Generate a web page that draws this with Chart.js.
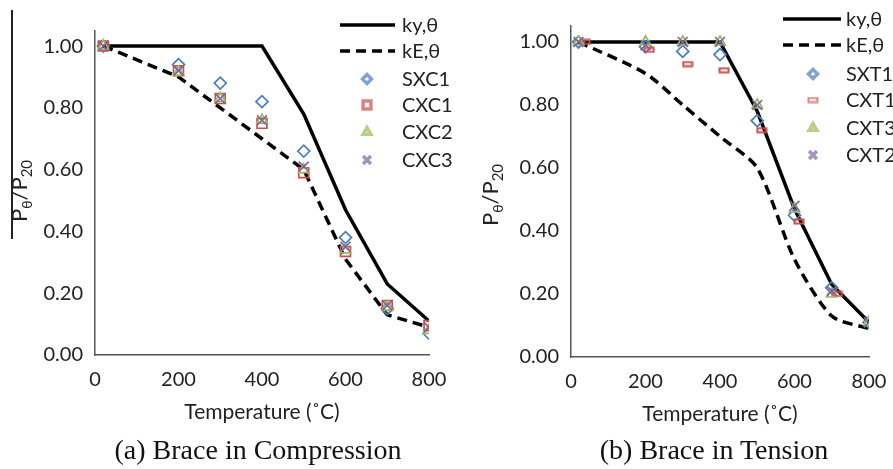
<!DOCTYPE html>
<html>
<head>
<meta charset="utf-8">
<script src="https://cdn.jsdelivr.net/npm/chart.js@4/dist/chart.umd.min.js"></script>
<style>
  body { margin: 0; background: #fff; }
  #wrap { position: relative; width: 893px; height: 469px; overflow: hidden; }
  #wrap canvas { position: absolute; left: 0; top: 0; }
  .cap { position: absolute; top: 434px; font-family: "Liberation Serif", serif; font-size: 28px; color: #111; white-space: nowrap; transform: translateX(-50%); }
  #bar { position: absolute; left: 11px; top: 10px; width: 1.5px; height: 229px; background: #222; }
</style>
</head>
<body>
<div id="wrap">
  <canvas id="left" width="893" height="469"></canvas>
  <canvas id="right" width="893" height="469"></canvas>
  <div id="bar"></div>
  <div class="cap" style="left:258px">(a) Brace in Compression</div>
  <div class="cap" style="left:714px">(b) Brace in Tension</div>
</div>
<script>
// Eurocode reduction factors
const kyTemps = [20, 400, 500, 600, 700, 800];
const kyVals = [1.0, 1.0, 0.78, 0.47, 0.23, 0.11];
const kETemps = [20, 200, 300, 400, 500, 600, 700, 800];
const kEVals = [1.0, 0.9, 0.8, 0.7, 0.6, 0.31, 0.13, 0.09];

// (a) compression tests
const compTemps = [20, 200, 300, 400, 500, 600, 700, 800];
const sxc1 = [1.0, 0.94, 0.88, 0.82, 0.66, 0.38, 0.15, 0.07];
const cxc1 = [1.0, 0.92, 0.83, 0.75, 0.59, 0.335, 0.16, 0.095];
const cxc2 = [1.0, 0.915, 0.83, 0.76, 0.60, 0.34, 0.155, 0.08];
const cxc3 = [1.0, 0.92, 0.83, 0.76, 0.61, 0.35, 0.16, 0.09];

// (b) tension tests
const tensTemps = [20, 200, 300, 400, 500, 600, 700, 800];
const cxt1Temps = [38, 210, 313, 411, 512, 612, 715, 818];
const sxt1 = [1.0, 0.985, 0.97, 0.96, 0.75, 0.45, 0.22, 0.11];
const cxt1 = [1.0, 0.975, 0.93, 0.91, 0.72, 0.43, 0.20, 0.10];
const cxt3 = [1.0, 1.0, 1.0, 1.0, 0.80, 0.47, 0.20, 0.11];
const cxt2 = [1.0, 0.99, 1.0, 1.0, 0.80, 0.48, 0.21, 0.11];

const xTicks = [0, 200, 400, 600, 800];
const yTicks = [0, 0.2, 0.4, 0.6, 0.8, 1.0];

const pts = (xs, ys) => xs.map((x, i) => ({ x: x, y: ys[i] }));

const BLUE = '#4a7ebb', RED = '#c9504d', GREEN = '#9bbb59', PURPLE = '#8064a2';
const FONT = 'Lato, "Open Sans", sans-serif';

// small hollow dash marker for CXT1
function dashMarker() {
  const c = document.createElement('canvas');
  c.width = 12; c.height = 7;
  const g = c.getContext('2d');
  g.strokeStyle = RED; g.lineWidth = 2;
  g.strokeRect(1.5, 1.5, 9, 4);
  return c;
}

function lineSet(label, xs, ys, dashed, tension) {
  return {
    label: label, data: pts(xs, ys), showLine: true, pointRadius: 0,
    borderColor: '#000', borderWidth: 3.5, borderDash: dashed ? [10, 6] : [],
    tension: tension, order: 10
  };
}
function markSet(label, xs, ys, style, color, radius, order) {
  return {
    label: label, data: pts(xs, ys), showLine: false,
    pointStyle: style, pointRadius: radius, pointHoverRadius: radius,
    pointBorderColor: color, pointBackgroundColor: 'rgba(0,0,0,0)',
    pointBorderWidth: 1.7, borderColor: color, order: order
  };
}

// legend drawn inside the plot like the original
const legendPlugin = {
  id: 'cornerLegend',
  afterDraw(chart, args, o) {
    const ctx = chart.ctx;
    ctx.save();
    ctx.font = '20px ' + FONT;
    ctx.textBaseline = 'middle';
    chart.data.datasets.forEach((ds, i) => {
      const y = o.rows[i];
      if (ds.showLine) {
        ctx.strokeStyle = '#000';
        ctx.lineWidth = 3.5;
        ctx.setLineDash(ds.borderDash);
        ctx.beginPath(); ctx.moveTo(o.x0, y); ctx.lineTo(o.x1, y); ctx.stroke();
        ctx.setLineDash([]);
      } else {
        ctx.strokeStyle = ds.pointBorderColor;
        ctx.fillStyle = 'rgba(0,0,0,0)';
        ctx.globalAlpha = 0.7;
        Chart.helpers.drawPoint(ctx, { pointStyle: ds.pointStyle, radius: ds.pointRadius - 1.5, borderWidth: 1.2, rotation: 0 }, o.mx, y);
        ctx.globalAlpha = 1;
      }
      ctx.fillStyle = '#222';
      ctx.fillText(ds.label, o.tx, y + 1);
    });
    ctx.restore();
  }
};

// y title with subscripts
const yTitlePlugin = {
  id: 'yTitle',
  afterDraw(chart, args, o) {
    const ctx = chart.ctx;
    ctx.save();
    ctx.translate(o.x, o.y);
    ctx.rotate(-Math.PI / 2);
    ctx.fillStyle = '#222';
    ctx.textBaseline = 'alphabetic';
    const parts = [['P', 22, 0], ['θ', 14, 5], ['/P', 22, 0], ['20', 15, 5]];
    let w = 0;
    parts.forEach(p => { ctx.font = p[1] + 'px ' + FONT; w += ctx.measureText(p[0]).width; });
    let x = -w / 2;
    parts.forEach(p => {
      ctx.font = p[1] + 'px ' + FONT;
      ctx.fillText(p[0], x, 7 + p[2]);
      x += ctx.measureText(p[0]).width;
    });
    ctx.restore();
  }
};

function makeChart(id, datasets, geo) {
  return new Chart(document.getElementById(id), {
    type: 'scatter',
    data: { datasets: datasets },
    options: {
      responsive: false, animation: false,
      layout: { padding: { left: geo.padLeft, right: geo.padRight, top: geo.padTop, bottom: geo.padBottom } },
      plugins: {
        legend: { display: false }, tooltip: { enabled: false },
        cornerLegend: geo.legend, yTitle: geo.ytitle
      },
      scales: {
        x: {
          type: 'linear', min: 0, max: 800,
          afterFit: s => { s.height = geo.xHeight; },
          afterBuildTicks: s => { s.ticks = xTicks.map(v => ({ value: v })); },
          grid: { display: false, drawTicks: true, tickLength: 7, tickColor: '#555', tickWidth: 1.5 },
          border: { color: '#555', width: 1.5 },
          ticks: { color: '#222', font: { family: FONT, size: 20 }, padding: 6, maxRotation: 0 },
          title: { display: true, text: 'Temperature (˚C)', color: '#222', font: { family: FONT, size: 21 }, padding: 0 }
        },
        y: {
          type: 'linear', min: 0, max: 1.05,
          afterFit: s => { s.width = geo.yWidth; },
          afterBuildTicks: s => { s.ticks = yTicks.map(v => ({ value: v })); },
          grid: { display: false, drawTicks: true, tickLength: 7, tickColor: '#555', tickWidth: 1.5 },
          border: { color: '#555', width: 1.5 },
          ticks: { color: '#222', font: { family: FONT, size: 20 }, padding: 5, callback: v => v.toFixed(2) }
        }
      }
    },
    plugins: [legendPlugin, yTitlePlugin]
  });
}

makeChart('left', [
  lineSet('ky,θ', kyTemps, kyVals, false, 0),
  lineSet('kE,θ', kETemps, kEVals, true, 0),
  markSet('SXC1', compTemps, sxc1, 'rectRot', BLUE, 6, 4),
  markSet('CXC1', compTemps, cxc1, 'rect', RED, 7, 3),
  markSet('CXC2', compTemps, cxc2, 'triangle', GREEN, 6, 2),
  markSet('CXC3', compTemps, cxc3, 'crossRot', PURPLE, 7, 1)
], {
  padLeft: 0, padRight: 893 - 429, padTop: 30.6, padBottom: 44, xHeight: 70, yWidth: 95,
  legend: { x0: 340, x1: 395, tx: 402, mx: 367, rows: [25, 51, 79, 105, 132, 160] },
  ytitle: { x: 20, y: 191 }
});

makeChart('right', [
  lineSet('ky,θ', kyTemps, kyVals, false, 0),
  lineSet('kE,θ', kETemps, kEVals, true, 0.25),
  markSet('SXT1', tensTemps, sxt1, 'rectRot', BLUE, 6, 4),
  markSet('CXT1', cxt1Temps, cxt1, dashMarker(), RED, 5, 3),
  markSet('CXT3', tensTemps, cxt3, 'triangle', GREEN, 6, 2),
  markSet('CXT2', tensTemps, cxt2, 'crossRot', PURPLE, 7, 1)
], {
  padLeft: 446, padRight: 893 - 869, padTop: 26.2, padBottom: 42, xHeight: 70, yWidth: 125,
  legend: { x0: 783, x1: 841, tx: 846, mx: 813, rows: [19, 45, 74, 100, 128, 155] },
  ytitle: { x: 491, y: 195 }
});
</script>
</body>
</html>
